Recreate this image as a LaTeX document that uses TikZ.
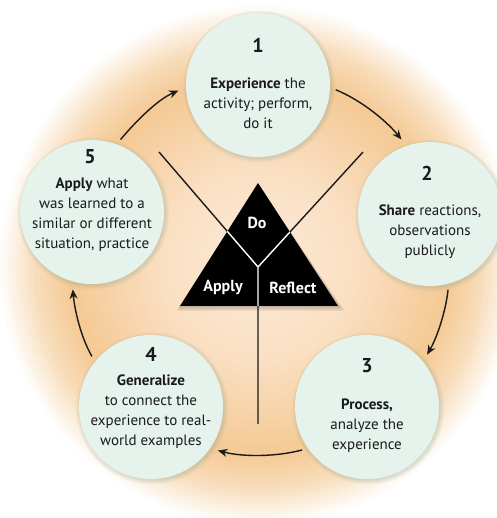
\documentclass[tikz,border=0pt]{standalone}
\usepackage{fontspec}
\setmainfont{PT Sans}
\usetikzlibrary{arrows.meta,calc}
\definecolor{ink}{HTML}{1A1A1A}
\definecolor{mint}{HTML}{E6F2EC}
\definecolor{shadowc}{HTML}{8FA890}
\definecolor{bgA}{HTML}{FCEBD9}
\definecolor{bgB}{HTML}{FADFC2}
\definecolor{bgC}{HTML}{F4C994}
\definecolor{bgD}{HTML}{F8DDBB}
\begin{document}
\begin{tikzpicture}[x=1pt,y=1pt,
  stepcircle/.style={circle, fill=mint, minimum size=144pt, inner sep=0pt},
  numlbl/.style={font=\fontsize{20}{20}\selectfont\bfseries, text=ink, inner sep=0pt},
  bodytxt/.style={font=\fontsize{15}{20}\selectfont, align=center, text=ink, inner sep=0pt},
  cyc/.style={-{Stealth[length=9.5pt,width=8pt]}, line width=1.4pt, draw=ink, looseness=0.87, shorten <=6pt, shorten >=8pt},
  trilbl/.style={font=\fontsize{16}{17}\selectfont\bfseries, text=white, inner sep=0pt},
  axis/.style={line width=1.4pt, draw=ink},
  ]
\useasboundingbox (0,0) rectangle (496,518);
\fill[white] (0,0) rectangle (496,518);
\coordinate (O) at (259,253);
% radial background built from concentric discs
\foreach \r in {262,259,...,226} {
  \pgfmathtruncatemacro\p{100*(262-\r)/37}
  \fill[bgD!\p!white] (O) circle (\r);
}
\foreach \r in {225,222,...,190} {
  \pgfmathtruncatemacro\p{100*(225-\r)/35}
  \fill[bgC!\p!bgD] (O) circle (\r);
}
\foreach \r in {187,184,...,100} {
  \pgfmathtruncatemacro\p{100*(190-\r)/90}
  \fill[bgB!\p!bgC] (O) circle (\r);
}
\foreach \r in {97,94,...,1} {
  \pgfmathtruncatemacro\p{100*(100-\r)/100}
  \fill[bgA!\p!bgB] (O) circle (\r);
}

% centre lines
\coordinate (J) at (258,251);
\coordinate (LU) at (159,366);
\coordinate (RU) at (363,366);
\coordinate (BT) at (258,94);
\draw[axis] (LU) -- (J) -- (RU) (J) -- (BT);

% triangle with shadow
\coordinate (TA) at (258,335);
\coordinate (TL) at (180,212);
\coordinate (TR) at (338,212);
\foreach \s in {1,2,3,4} {
  \fill[black, opacity=0.06] ([xshift=0.5*\s pt, yshift=-1.0*\s pt]TA) -- ([xshift=-0.8*\s pt, yshift=-1.2*\s pt]TL) -- ([xshift=1.6*\s pt, yshift=-1.2*\s pt]TR) -- cycle;
}
\fill[black] (TA) -- (TL) -- (TR) -- cycle;
\begin{scope}
  \clip (TA) -- (TL) -- (TR) -- cycle;
  \draw[line width=1.4pt, white] (LU) -- (J) -- (RU) (J) -- (BT);
\end{scope}
\node[trilbl] (do) at (257,295) {Do};
\node[trilbl] (apply) at (223,230) {Apply};
\node[trilbl] (reflect) at (293,230) {Reflect};

% circle shadows
\foreach \cx/\cy in {258/433,430/304,367/111,151/111,92/306} {
  \foreach \r in {1,2,3,4,5} {
    \fill[shadowc, opacity=0.07] (\cx+1.2,\cy-1.5) circle (71+\r);
  }
}

% circles
\node[stepcircle] (c1) at (258,433) {};
\node[stepcircle] (c2) at (430,304) {};
\node[stepcircle] (c3) at (367,111) {};
\node[stepcircle] (c4) at (151,111) {};
\node[stepcircle] (c5) at (92,306) {};

\node[numlbl] (n1) at ($(c1.center)+(0,40)$) {1};
\node[bodytxt] (t1) at ($(c1.center)+(0,-18)$) {\textbf{Experience} the\\activity; perform,\\do it};
\node[numlbl] (n2) at ($(c2.center)+(-3,41)$) {2};
\node[bodytxt] (t2) at ($(c2.center)+(0,-18)$) {\textbf{Share} reactions,\\observations\\publicly};
\node[numlbl] (n3) at ($(c3.center)+(0,41)$) {3};
\node[bodytxt] (t3) at ($(c3.center)+(0,-19)$) {\textbf{Process,}\\analyze the\\experience};
\node[numlbl] (n4) at ($(c4.center)+(0,53)$) {4};
\node[bodytxt] (t4) at ($(c4.center)+(0,-5)$) {\textbf{Generalize}\\to connect the\\experience to real-\\world examples};
\node[numlbl] (n5) at ($(c5.center)+(-2,55)$) {5};
\node[bodytxt] (t5) at ($(c5.center)+(0,-3)$) {\textbf{Apply} what\\was learned to a\\similar or different\\situation, practice};

% cycle arrows
\draw[cyc] (c1.-2) to[out=-22, in=129] (c2.109);
\draw[cyc] (c2.285) to[out=-96, in=60] (c3.39);
\draw[cyc] (c3.215) to[out=-165, in=-15] (c4.-35);
\draw[cyc] (c4.141) to[out=120, in=275] (c5.-106);
\draw[cyc] (c5.70) to[out=50, in=203] (c1.-178);
\end{tikzpicture}
\end{document}
